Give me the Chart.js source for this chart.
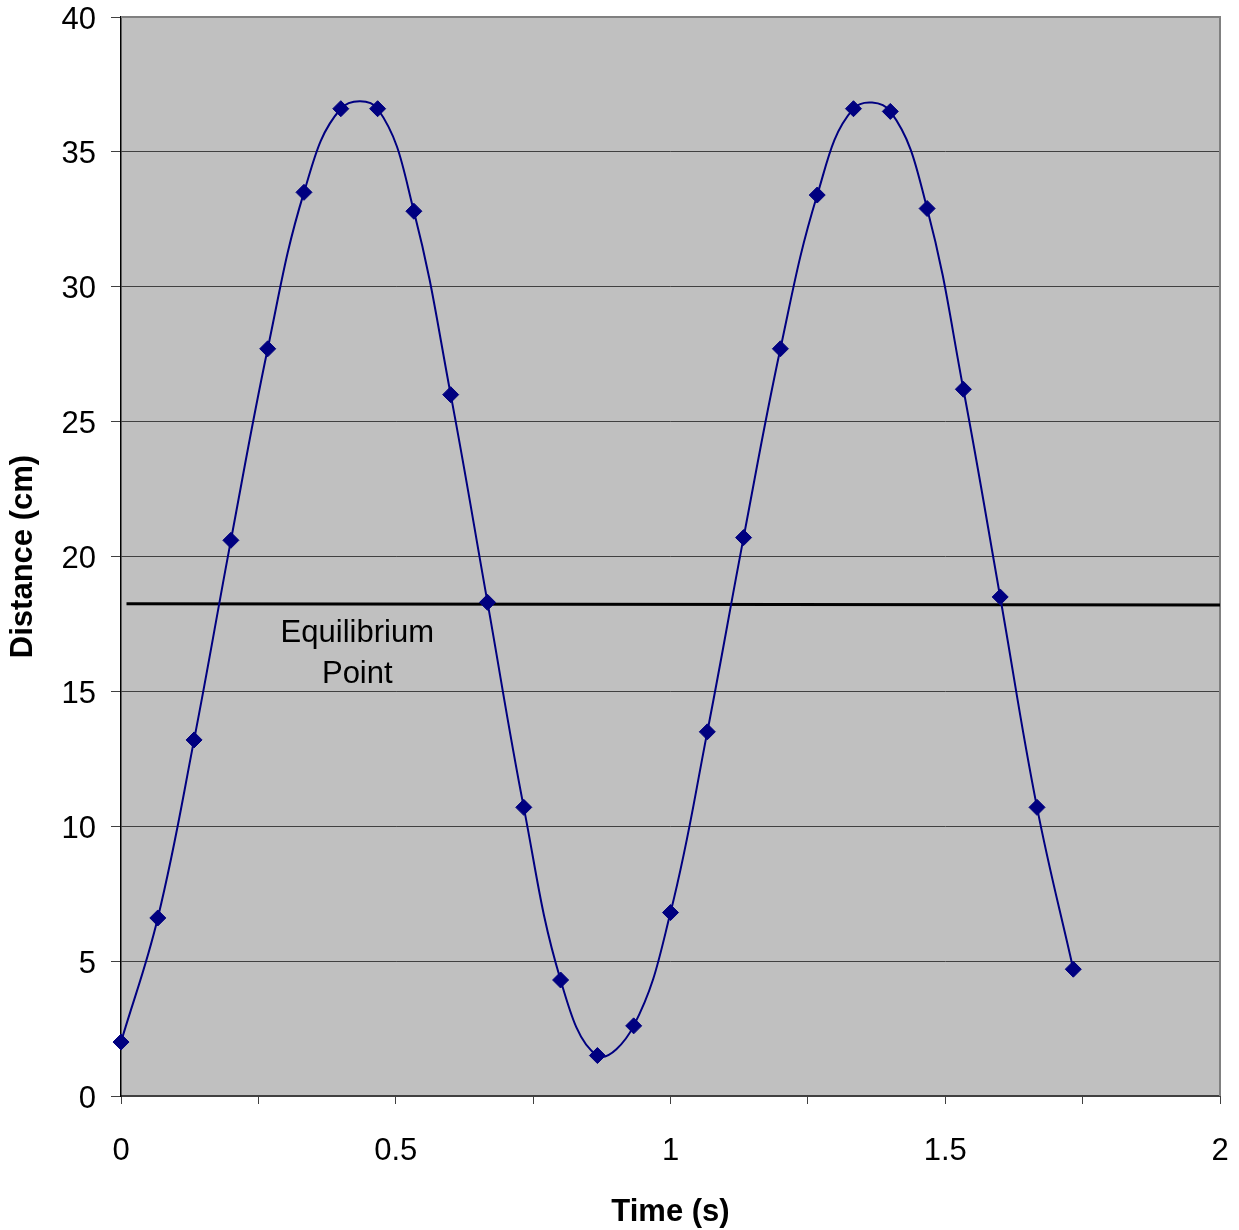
<!DOCTYPE html>
<html>
<head>
<meta charset="utf-8">
<script src="https://cdn.jsdelivr.net/npm/chart.js@4.4.1/dist/chart.umd.min.js"></script>
<style>
  html, body { margin: 0; padding: 0; background: #fff; }
  #wrap { width: 1239px; height: 1230px; }
</style>
</head>
<body>
<div id="wrap"><canvas id="c" width="1239" height="1230"></canvas></div>
<script>
// Data
const timeValues = [0, 0.067, 0.133, 0.2, 0.267, 0.333, 0.4, 0.467, 0.533, 0.6, 0.667, 0.733, 0.8, 0.867, 0.933, 1.0, 1.067, 1.133, 1.2, 1.267, 1.333, 1.4, 1.467, 1.533, 1.6, 1.667, 1.733];
const distanceValues = [2.0, 6.6, 13.2, 20.6, 27.7, 33.5, 36.6, 36.6, 32.8, 26.0, 18.3, 10.7, 4.3, 1.5, 2.6, 6.8, 13.5, 20.7, 27.7, 33.4, 36.6, 36.5, 32.9, 26.2, 18.5, 10.7, 4.7];
const equilibriumX = [0.01, 2.0];
const equilibriumY = [18.25, 18.2];
const equilibriumLabel = ["Equilibrium", "Point"];
const labelX = 0.43;
const labelY = [17.13, 15.61];
const xTickMin = 0, xTickMax = 2, xTickStep = 0.25, xLabelStep = 0.5;
const yTickMin = 0, yTickMax = 40, yTickStep = 5;

const FONT = '"Liberation Sans", Arial, Helvetica, sans-serif';

const bgPlugin = {
  id: 'bgPlugin',
  beforeDraw(chart) {
    const {ctx, chartArea: a} = chart;
    ctx.save();
    ctx.fillStyle = '#C0C0C0';
    ctx.fillRect(a.left, a.top, a.right - a.left, a.bottom - a.top);
    ctx.restore();
  },
  beforeDatasetsDraw(chart) {
    const {ctx, chartArea: a} = chart;
    ctx.save();
    ctx.strokeStyle = '#808080';
    ctx.lineWidth = 2;
    ctx.beginPath();
    ctx.moveTo(a.left, a.top);
    ctx.lineTo(a.right, a.top);
    ctx.lineTo(a.right, a.bottom);
    ctx.stroke();
    // text annotation
    const xs = chart.scales.x, ys = chart.scales.y;
    ctx.fillStyle = '#000';
    ctx.font = '31px ' + FONT;
    ctx.textAlign = 'center';
    ctx.textBaseline = 'middle';
    equilibriumLabel.forEach((t, i) => {
      ctx.fillText(t, xs.getPixelForValue(labelX), ys.getPixelForValue(labelY[i]));
    });
    ctx.restore();
  }
};

const seriesData = timeValues.map((t, i) => ({x: t, y: distanceValues[i]}));
const eqData = equilibriumX.map((t, i) => ({x: t, y: equilibriumY[i]}));

new Chart(document.getElementById('c'), {
  type: 'scatter',
  data: {
    datasets: [
      {
        label: 'Distance',
        data: seriesData,
        showLine: true,
        borderColor: '#000080',
        backgroundColor: '#000080',
        borderWidth: 2,
        tension: 0.4,
        pointStyle: 'rectRot',
        pointRadius: 8,
        pointHoverRadius: 8,
        pointBorderWidth: 1,
        pointBorderColor: '#000080',
        pointBackgroundColor: '#000080',
        clip: false
      },
      {
        label: 'Equilibrium',
        data: eqData,
        showLine: true,
        borderColor: '#000000',
        borderWidth: 3,
        pointRadius: 0,
        tension: 0,
        clip: false
      }
    ]
  },
  options: {
    responsive: false,
    animation: false,
    events: [],
    layout: { padding: { left: 0, top: 17, right: 19, bottom: 0 } },
    plugins: { legend: { display: false }, tooltip: { enabled: false } },
    scales: {
      x: {
        type: 'linear',
        min: xTickMin, max: xTickMax,
        afterFit(s) { s.height = 134; s.paddingLeft = 0; s.paddingRight = 0; },
        afterBuildTicks(s) {
          const t = [];
          for (let v = xTickMin; v <= xTickMax + 1e-9; v += xTickStep) t.push({value: Math.round(v * 100) / 100});
          s.ticks = t;
        },
        ticks: {
          autoSkip: false,
          maxRotation: 0,
          padding: 32,
          color: '#000',
          font: { family: FONT, size: 31, lineHeight: 1 },
          callback(v) {
            const r = v / xLabelStep;
            return Math.abs(r - Math.round(r)) < 1e-6 ? String(v) : '';
          }
        },
        grid: { drawOnChartArea: false, drawTicks: true, tickLength: 8, color: '#404040', lineWidth: 1 },
        border: { display: true, color: '#404040', width: 2 },
        title: { display: true, text: 'Time (s)', color: '#000', padding: { top: 0, bottom: 0 },
                 font: { family: FONT, size: 31, weight: 'bold', lineHeight: 1.15 } }
      },
      y: {
        type: 'linear',
        min: yTickMin, max: yTickMax,
        afterFit(s) { s.width = 121; s.paddingTop = 0; s.paddingBottom = 0; },
        ticks: {
          stepSize: yTickStep,
          padding: 15,
          labelOffset: 3,
          color: '#000',
          font: { family: FONT, size: 31, lineHeight: 1 }
        },
        grid: { drawOnChartArea: true, drawTicks: true, tickLength: 10, color: '#404040', lineWidth: 1 },
        border: { display: true, color: '#000', width: 1.5 },
        title: { display: true, text: 'Distance (cm)', color: '#000', padding: { top: 5, bottom: 0 },
                 font: { family: FONT, size: 31, weight: 'bold', lineHeight: 1.2 } }
      }
    }
  },
  plugins: [bgPlugin]
});
</script>
</body>
</html>
